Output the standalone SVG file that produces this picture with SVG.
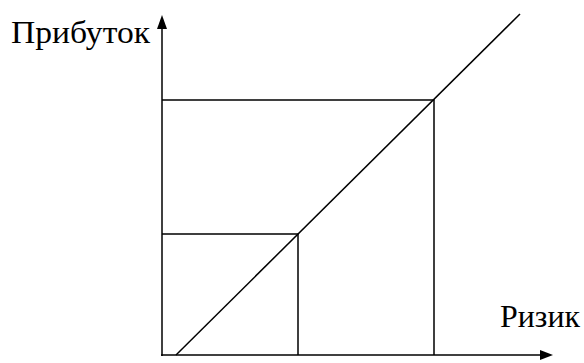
<svg xmlns="http://www.w3.org/2000/svg" width="584" height="363" viewBox="0 0 584 363">
<style>
.ln{stroke:#000;stroke-width:1.5;fill:none}
.t{font-family:"Liberation Serif","Times New Roman",serif;font-size:32px;fill:#000}
</style>
<rect width="584" height="363" fill="#fff"/>
<g id="connectors">
<line class="ln" x1="162" y1="356" x2="162" y2="28"/>
<polygon points="162,15 157,29 167,29" fill="#000"/>
<line class="ln" x1="161" y1="355" x2="541" y2="355"/>
<polygon points="553,355 540,350 540,360" fill="#000"/>
<line class="ln" x1="176" y1="355" x2="520" y2="14"/>
<polyline class="ln" points="162,100 434,100 434,355"/>
<polyline class="ln" points="162,234 298,234 298,355"/>
</g>
<g id="label-y"><text class="t" x="11" y="43" textLength="139" lengthAdjust="spacingAndGlyphs">Прибуток</text></g>
<g id="label-x"><text class="t" x="500" y="327" textLength="80" lengthAdjust="spacingAndGlyphs">Ризик</text></g>
</svg>
